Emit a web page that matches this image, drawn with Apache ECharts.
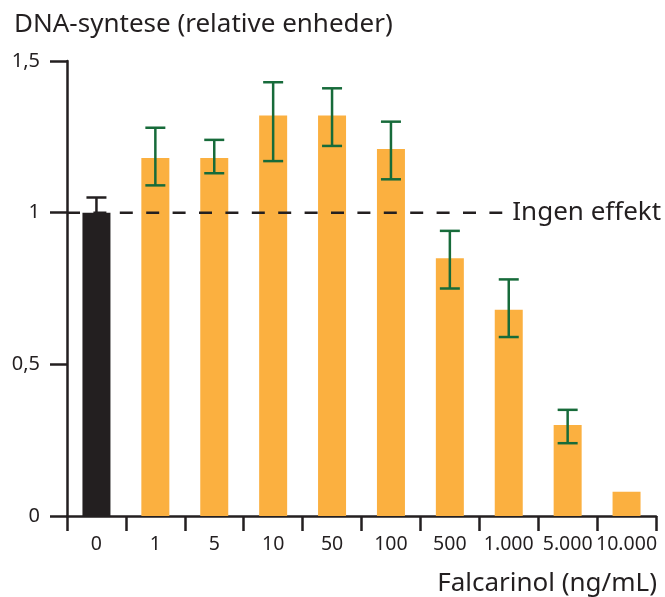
<!DOCTYPE html>
<html><head><meta charset="utf-8">
<script src="https://cdn.jsdelivr.net/npm/echarts@6/dist/echarts.min.js"></script>
<style>html,body{margin:0;padding:0;background:#fff}#c{width:665px;height:597px}</style>
</head><body><div id="c"></div>
<script>
const categories = ['0','1','5','10','50','100','500','1.000','5.000','10.000'];
const values     = [1.00, 1.18, 1.18, 1.32, 1.32, 1.21, 0.85, 0.68, 0.30, 0.08];
const errUpper   = [1.05, 1.28, 1.24, 1.43, 1.41, 1.30, 0.94, 0.78, 0.35, null];
const errLower   = [null, 1.09, 1.13, 1.17, 1.22, 1.11, 0.75, 0.59, 0.24, null];
const yTickValues = [0, 0.5, 1, 1.5];
const refValue = 1;
const refSpan = [0, 7.39];
const refLabel = 'Ingen effekt';
const yTitle = 'DNA-syntese (relative enheder)';
const xTitle = 'Falcarinol (ng/mL)';

const FONT = 'Noto Sans';
const INK = '#231f20';
const ORANGE = '#fbb040';
const GREEN = '#176b3a';

const barData = values.map((v, i) => ({
  value: v,
  itemStyle: { color: i === 0 ? INK : ORANGE }
}));
const errData = [];
categories.forEach((c, i) => {
  if (errUpper[i] != null) errData.push([i, errLower[i] == null ? NaN : errLower[i], errUpper[i]]);
});

const chart = echarts.init(document.getElementById('c'), null, { renderer: 'canvas' });
chart.setOption({
  animation: false,
  textStyle: { fontFamily: FONT },
  title: [
    { text: yTitle, left: 9, top: 7, textStyle: { fontFamily: FONT, fontSize: 26, fontWeight: 'normal', color: INK } },
    { text: xTitle, right: 3, top: 566, textStyle: { fontFamily: FONT, fontSize: 26, fontWeight: 'normal', color: INK } }
  ],
  grid: { left: 67, right: 9, top: 61, bottom: 81, containLabel: false },
  xAxis: [
    {
      type: 'category', data: categories, boundaryGap: true,
      axisLine: { lineStyle: { color: INK, width: 2.5 } },
      axisTick: { show: true, length: 15, lineStyle: { color: INK, width: 2.5 } },
      axisLabel: { fontFamily: FONT, fontSize: 19.5, color: INK, margin: 18, interval: 0 }
    },
    { type: 'value', min: 0, max: 10, show: false }
  ],
  yAxis: {
    type: 'value', min: 0, max: 1.5, interval: 0.5,
    axisLine: { show: true, lineStyle: { color: INK, width: 2.5 } },
    axisTick: { show: true, length: 17, lineStyle: { color: INK, width: 2.5 } },
    splitLine: { show: false },
    axisLabel: {
      fontFamily: FONT, fontSize: 20, color: INK, margin: 27,
      formatter: v => yTickValues.includes(v) ? String(v).replace('.', ',') : ''
    }
  },
  series: [
    {
      type: 'bar', data: barData, barWidth: 28, xAxisIndex: 0
    },
    {
      type: 'custom', xAxisIndex: 0, data: errData, z: 3,
      renderItem: function (params, api) {
        const i = api.value(0);
        const color = i === 0 ? INK : GREEN;
        const style = { stroke: color, lineWidth: 2.5, fill: null };
        const hw = 10;
        const hi = api.coord([i, api.value(2)]);
        const loVal = api.value(1);
        const lo = isNaN(loVal) ? api.coord([i, values[i]]) : api.coord([i, loVal]);
        const children = [
          { type: 'line', shape: { x1: hi[0], y1: hi[1], x2: lo[0], y2: lo[1] }, style },
          { type: 'line', shape: { x1: hi[0] - hw, y1: hi[1], x2: hi[0] + hw, y2: hi[1] }, style }
        ];
        if (!isNaN(loVal)) {
          children.push({ type: 'line', shape: { x1: lo[0] - hw, y1: lo[1], x2: lo[0] + hw, y2: lo[1] }, style });
        }
        return { type: 'group', children };
      }
    },
    {
      type: 'line', xAxisIndex: 1, yAxisIndex: 0, z: 4,
      data: [[refSpan[0], refValue], [refSpan[1], refValue]],
      symbol: 'none', silent: true,
      lineStyle: { color: INK, width: 2.5, type: [13, 13.4] },
      endLabel: { show: true, formatter: refLabel, fontFamily: FONT, fontSize: 26, color: INK, distance: 10 }
    }
  ]
});
</script></body></html>
